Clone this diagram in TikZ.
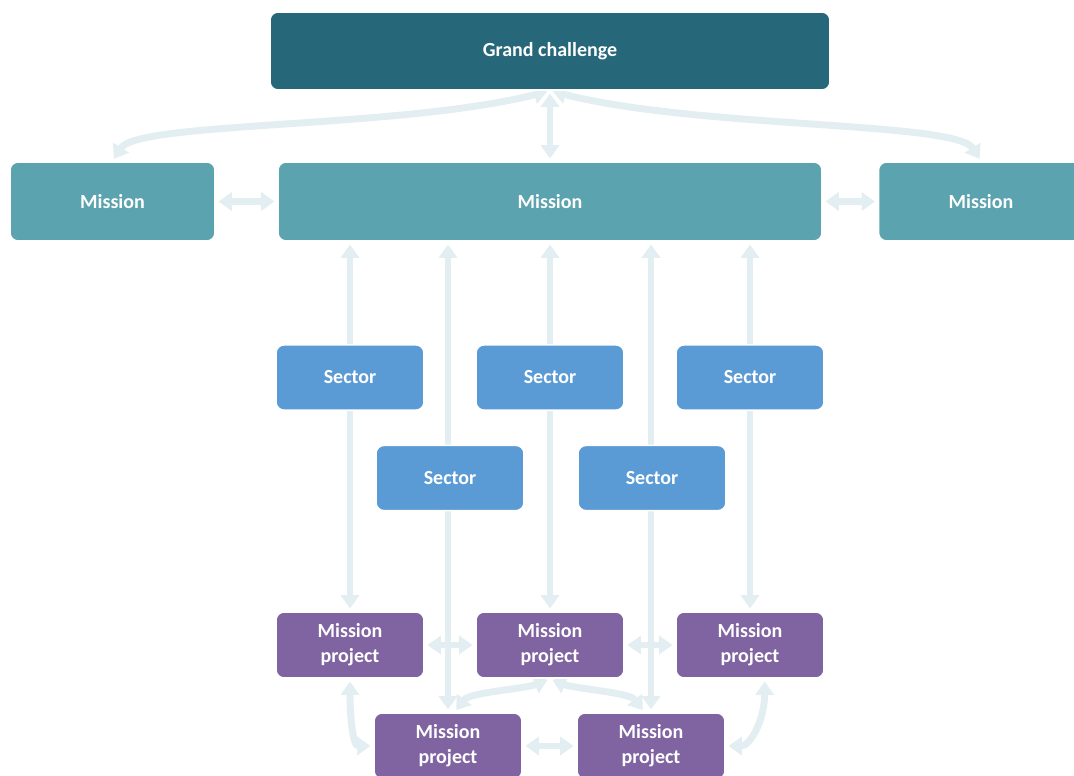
\documentclass[tikz,border=0pt]{standalone}
\usepackage{fontspec}
\setmainfont{Carlito}
\usetikzlibrary{arrows.meta, backgrounds}

\definecolor{challengeteal}{HTML}{26687A}
\definecolor{missionteal}{HTML}{5BA3AF}
\definecolor{sectorblue}{HTML}{5B9BD5}
\definecolor{projectpurple}{HTML}{8064A2}
\definecolor{linkgrey}{HTML}{E2EEF1}

\begin{document}
\begin{tikzpicture}[
    x=0.75pt, y=-0.75pt,
    box/.style={draw=white, line width=1.2pt, rounded corners=6pt, text=white,
        font=\fontsize{15}{18.75}\selectfont\bfseries, align=center, inner sep=0pt},
    challenge/.style={box, fill=challengeteal, minimum width=420pt, minimum height=58.5pt},
    mission/.style={box, fill=missionteal, minimum height=59.25pt},
    sector/.style={box, fill=sectorblue, minimum width=111pt, minimum height=49pt},
    project/.style={box, fill=projectpurple, minimum width=111pt, minimum height=49.5pt},
    link/.style={draw=linkgrey, line width=5.2pt, shorten <=2pt, shorten >=2pt,
        {Triangle[width=13.5pt,length=10pt]}-{Triangle[width=13.5pt,length=10pt]}}
]

\useasboundingbox (0,0) rectangle (1074,775);

% =========================
% Grand challenge and missions
% =========================
\node[challenge] (gc) at (550,51) {Grand challenge};
\node[mission, minimum width=153.75pt] (ml) at (112.5,201.5) {Mission};
\node[mission, minimum width=408pt] (mc) at (550,201.5) {Mission};
\node[mission, minimum width=153.75pt] (mr) at (981,201.5) {Mission};

% =========================
% Sectors
% =========================
\foreach \name/\x/\y in {s1/350/377.5, s2/550/377.5, s3/750/377.5, s4/450/478, s5/652/478}
{
    \node[sector] (\name) at (\x,\y) {Sector};
}

% =========================
% Mission projects
% =========================
\foreach \name/\x/\y in {p1/350/645, p2/550/645, p3/750/645, p4/448/746, p5/651/746}
{
    \node[project] (\name) at (\x,\y) {Mission\\project};
}

% =========================
% Links (behind the boxes)
% =========================
\begin{scope}[on background layer]
    % challenge to missions
    \draw[link] (gc.south) -- (mc.north);
    \draw[link] (gc.south) .. controls +(-150,38) and +(25,-40) .. (ml.north);
    \draw[link] (gc.south) .. controls +(150,38) and +(-25,-40) .. (mr.north);

    % between missions
    \draw[link] (ml) -- (mc);
    \draw[link] (mc) -- (mr);

    % mission to projects, through the sectors
    \foreach \p in {p1,p2,p3,p4,p5}
    {
        \draw[link] (mc.south -| \p.north) -- (\p.north);
    }

    % between projects
    \draw[link] (p1) -- (p2);
    \draw[link] (p2) -- (p3);
    \draw[link] (p4) -- (p5);
    \draw[link] (p1.south) .. controls +(0,40) and +(-20,0) .. (p4.west);
    \draw[link] ([xshift=5pt]p4.north) .. controls +(15,-20) and +(-25,10) .. (p2.south);
    \draw[link] (p2.south) .. controls +(25,10) and +(-15,-20) .. ([xshift=-5pt]p5.north);
    \draw[link] (p5.east) .. controls +(25,0) and +(0,40) .. ([xshift=11pt]p3.south);
\end{scope}

\end{tikzpicture}
\end{document}
